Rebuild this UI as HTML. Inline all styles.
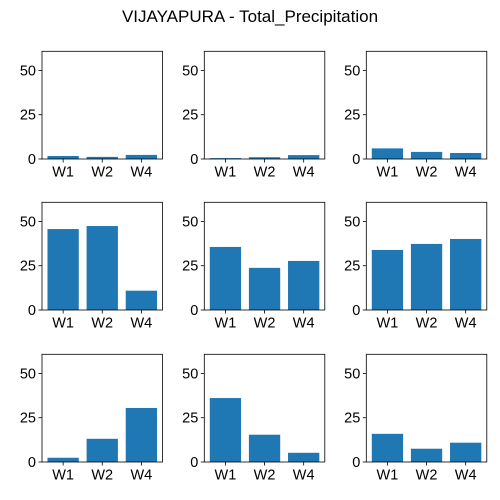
<!DOCTYPE html>
<html><head><meta charset="utf-8"><style>
html,body{margin:0;padding:0;background:#fff;overflow:hidden;}
svg{display:block;}
svg text{font-family:"Liberation Sans","DejaVu Sans",sans-serif;fill:#000;}
</style></head><body>
<svg id="chart" width="500" height="500" xmlns="http://www.w3.org/2000/svg">
<text x="250" y="22" text-anchor="middle" font-size="17">VIJAYAPURA - Total_Precipitation</text>
</svg>
<script>
const categories = ["W1","W2","W4"];
const panel1 = [1.7,1.2,2.3];
const panel2 = [0.5,1.0,2.2];
const panel3 = [6.0,4.0,3.4];
const panel4 = [45.7,47.4,10.9];
const panel5 = [35.6,23.8,27.7];
const panel6 = [33.9,37.3,40.1];
const panel7 = [2.4,13.1,30.5];
const panel8 = [36.1,15.4,5.2];
const panel9 = [15.9,7.5,10.9];
const yTicks = [0,25,50];
const yMax = 60.8;

const series = [panel1,panel2,panel3,panel4,panel5,panel6,panel7,panel8,panel9];
const colX = [42,204.3,366.3];
const rowY = [51.3,202.3,354.3];
const W = 120.5, H = 107.7;
const svg = document.getElementById('chart');
const NS = "http://www.w3.org/2000/svg";
function mk(tag, attrs){const e=document.createElementNS(NS,tag);for(const k in attrs)e.setAttribute(k,attrs[k]);return e;}

series.forEach((vals, i) => {
  const x0 = colX[i%3], y0 = rowY[Math.floor(i/3)];
  const g = mk('g', {});
  
  
  svg.appendChild(g);
  const n = categories.length;
  const xmin = -0.4 - 0.05*(n-1+0.8), xmax = (n-1)+0.4 + 0.05*(n-1+0.8);
  const xs = v => x0 + (v - xmin)/(xmax - xmin)*W;
  const ys = v => y0 + H - v/yMax*H;
  vals.forEach((v, j) => {
    const r = mk('rect', {x: xs(j-0.4), y: ys(v), width: xs(j+0.4)-xs(j-0.4), height: ys(0)-ys(v), fill: '#1f77b4'});
    
    
    g.appendChild(r);
    const t = mk('line', {x1: xs(j), x2: xs(j), y1: y0+H, y2: y0+H+3.5, stroke: '#000', 'stroke-width': 0.8});
    g.appendChild(t);
    const lb = mk('text', {x: xs(j), y: y0+H+17.5, 'text-anchor': 'middle', 'font-size': 14.5});
    lb.textContent = categories[j];
    
    
    g.appendChild(lb);
  });
  yTicks.forEach(tv => {
    g.appendChild(mk('line', {x1: x0-3.5, x2: x0, y1: ys(tv), y2: ys(tv), stroke: '#000', 'stroke-width': 0.8}));
    const lb = mk('text', {x: x0-6, y: ys(tv)+5, 'text-anchor': 'end', 'font-size': 14.5});
    lb.textContent = tv;
    
    
    g.appendChild(lb);
  });
  const frame = mk('rect', {x: x0, y: y0, width: W, height: H, fill: 'none', stroke: '#000', 'stroke-width': 0.8});
  
  
  g.appendChild(frame);
});
</script>
</body></html>
